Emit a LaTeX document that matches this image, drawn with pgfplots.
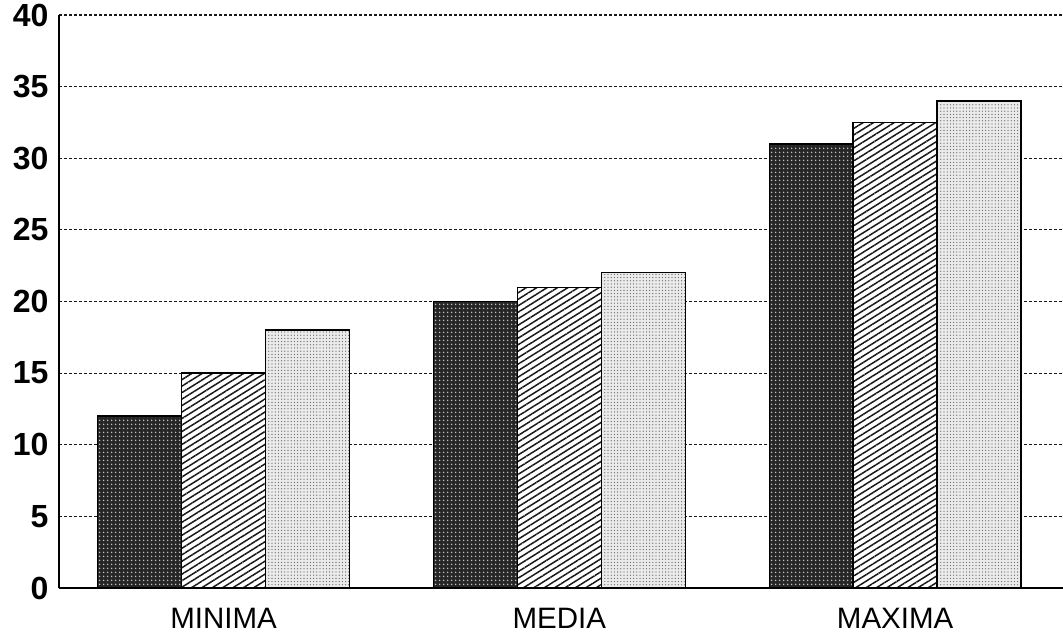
\documentclass[border=0pt]{standalone}
\usepackage{fontspec}
\setmainfont{Liberation Sans}
\usepackage{pgfplots}
\pgfplotsset{compat=1.18}
\usetikzlibrary{patterns.meta}
\begin{document}
\begin{tikzpicture}
\useasboundingbox (0,0) rectangle (1063pt,636pt);
\begin{axis}[
  at={(59pt,48pt)}, anchor=south west,
  scale only axis,
  width=1004pt, height=573pt,
  xmin=-0.49, xmax=2.5,
  ymin=0, ymax=40,
  ytick={0,5,...,40},
  xtick={0,1,2},
  xticklabels={MINIMA,MEDIA,MAXIMA},
  axis x line*=bottom,
  axis y line*=left,
  axis line style={line width=1.3pt, black},
  major tick length=0pt,
  ymajorgrids,
  major grid style={densely dashed, black!90, line width=1.1pt},
  /pgf/number format/assume math mode=true,
  yticklabel style={font=\fontsize{32}{34}\selectfont\bfseries, xshift=-7pt},
  xticklabel style={font=\fontsize{29.5}{31}\selectfont, yshift=-17pt},
  ybar, bar width=0.25,
  every axis plot/.append style={draw=black, line width=1.3pt},
  clip=false,
]
\addplot[bar shift=-0.25, fill=black!85,
  postaction={pattern={Dots[distance=4pt,radius=1pt]}, pattern color=white!75!black}]
  coordinates {(0,12) (1,20) (2,31)};
\addplot[bar shift=0, fill=white,
  postaction={pattern={Lines[angle=32,distance=5.5pt,line width=1.5pt]}, pattern color=black!90}]
  coordinates {(0,15) (1,21) (2,32.5)};
\addplot[bar shift=0.25, fill=black!8,
  postaction={pattern={Dots[distance=3.2pt,radius=0.65pt]}, pattern color=black!60}]
  coordinates {(0,18) (1,22) (2,34)};
\end{axis}
\end{tikzpicture}
\end{document}
